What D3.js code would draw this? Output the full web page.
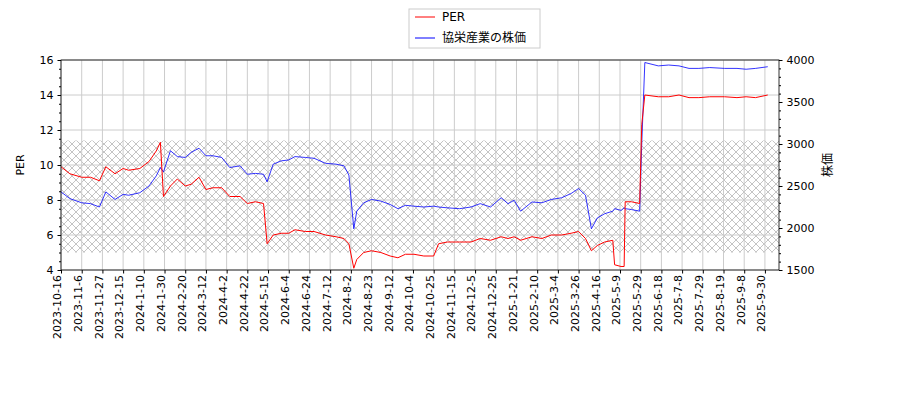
<!DOCTYPE html>
<html><head><meta charset="utf-8">
<script src="https://cdn.jsdelivr.net/npm/d3@7"></script>
<style>body{margin:0;background:#fff;font-family:"DejaVu Sans",sans-serif;}</style>
</head><body><div id="chart"></div>
<script>
// Données
const tickLabels = ["2023-10-16","2023-11-6","2023-11-27","2023-12-15","2024-1-10","2024-1-30","2024-2-20","2024-3-12","2024-4-2","2024-4-22","2024-5-15","2024-6-4","2024-6-24","2024-7-12","2024-8-2","2024-8-23","2024-9-12","2024-10-4","2024-10-25","2024-11-15","2024-12-5","2024-12-25","2025-1-21","2025-2-10","2025-3-4","2025-3-26","2025-4-16","2025-5-9","2025-5-29","2025-6-18","2025-7-8","2025-7-29","2025-8-19","2025-9-8","2025-9-30"];
const dates = ["2023-10-16","2023-10-25","2023-11-06","2023-11-15","2023-11-24","2023-11-30","2023-12-08","2023-12-15","2023-12-22","2024-01-05","2024-01-15","2024-01-22","2024-01-26","2024-01-29","2024-02-05","2024-02-12","2024-02-20","2024-02-26","2024-03-05","2024-03-12","2024-03-19","2024-03-28","2024-04-05","2024-04-15","2024-04-22","2024-05-01","2024-05-10","2024-05-14","2024-05-20","2024-05-28","2024-06-04","2024-06-10","2024-06-20","2024-06-28","2024-07-08","2024-07-18","2024-07-26","2024-07-31","2024-08-05","2024-08-08","2024-08-15","2024-08-23","2024-09-01","2024-09-10","2024-09-18","2024-09-26","2024-10-05","2024-10-15","2024-10-25","2024-10-30","2024-11-08","2024-11-20","2024-12-01","2024-12-10","2024-12-20","2025-01-01","2025-01-10","2025-01-18","2025-01-25","2025-02-05","2025-02-15","2025-02-25","2025-03-08","2025-03-18","2025-03-26","2025-04-02","2025-04-08","2025-04-14","2025-04-22","2025-05-01","2025-05-03","2025-05-10","2025-05-13","2025-05-14","2025-05-20","2025-05-28","2025-05-30","2025-06-02","2025-06-15","2025-06-25","2025-07-05","2025-07-15","2025-07-25","2025-08-05","2025-08-20","2025-09-01","2025-09-10","2025-09-20","2025-10-03"];
const per = [9.9,9.5,9.3,9.3,9.1,9.9,9.5,9.8,9.7,9.8,10.2,10.8,11.3,8.2,8.8,9.2,8.8,8.9,9.3,8.6,8.7,8.7,8.2,8.2,7.8,7.9,7.8,5.5,6.0,6.1,6.1,6.3,6.2,6.2,6.0,5.9,5.8,5.5,4.1,4.6,5.0,5.1,5.0,4.8,4.7,4.9,4.9,4.8,4.8,5.5,5.6,5.6,5.6,5.8,5.7,5.9,5.8,5.9,5.7,5.9,5.8,6.0,6.0,6.1,6.2,5.8,5.1,5.4,5.6,5.7,4.3,4.2,4.2,7.9,7.9,7.8,12.3,14.0,13.9,13.9,14.0,13.85,13.85,13.9,13.9,13.85,13.9,13.85,14.0];
const price = [2430,2350,2300,2290,2250,2430,2340,2400,2390,2420,2500,2620,2720,2667,2920,2850,2840,2900,2950,2860,2860,2840,2720,2740,2640,2650,2640,2550,2760,2800,2810,2850,2840,2830,2770,2760,2740,2630,1990,2200,2300,2340,2320,2280,2230,2270,2260,2250,2260,2250,2240,2230,2250,2290,2250,2360,2290,2330,2200,2310,2300,2340,2360,2410,2470,2390,1990,2120,2170,2200,2230,2210,2240,2230,2220,2200,3000,3970,3930,3940,3930,3900,3900,3910,3900,3900,3890,3900,3920];
const hatchBand = [5, 11.4];

const W = 900, H = 400, m = {l: 61, r: 121, t: 60, b: 130};
const pw = W - m.l - m.r, ph = H - m.t - m.b;
const svg = d3.select("#chart").append("svg").attr("width", W).attr("height", H)
  .style("font-family", "'DejaVu Sans', sans-serif");

// Position en index de tick (axe non calendaire)
const tickTimes = tickLabels.map(s => { const p = s.split("-"); return new Date(+p[0], +p[1]-1, +p[2]).getTime(); });
const toIdx = t => {
  for (let i = 0; i < tickTimes.length - 1; i++) {
    if (t <= tickTimes[i+1]) return i + (t - tickTimes[i]) / (tickTimes[i+1] - tickTimes[i]);
  }
  const n = tickTimes.length - 1;
  return n + (t - tickTimes[n]) / (tickTimes[n] - tickTimes[n-1]);
};
const data = dates.map((d, i) => {
  const p = d.split("-");
  return {idx: toIdx(new Date(+p[0], +p[1]-1, +p[2]).getTime()), per: per[i], price: price[i]};
});

const x = d3.scaleLinear().domain([0, 34.68]).range([m.l, m.l + pw]);
const yL = d3.scaleLinear().domain([4, 16]).range([m.t + ph, m.t]);
const yR = d3.scaleLinear().domain([1500, 4000]).range([m.t + ph, m.t]);

// Hachures
const defs = svg.append("defs");
const pat = defs.append("pattern").attr("id", "hatch").attr("patternUnits", "userSpaceOnUse")
  .attr("width", 8).attr("height", 8);
pat.append("path").attr("d", "M0,0L8,8M8,0L0,8").attr("stroke", "#aaa").attr("stroke-width", 0.7);
svg.append("rect").attr("x", m.l).attr("width", pw)
  .attr("y", yL(hatchBand[1])).attr("height", yL(hatchBand[0]) - yL(hatchBand[1]))
  .attr("fill", "url(#hatch)");

// Grille
const g = svg.append("g").attr("stroke", "#ccc").attr("stroke-width", 1);
tickLabels.forEach((t, i) => g.append("line").attr("x1", x(i)).attr("x2", x(i)).attr("y1", m.t).attr("y2", m.t + ph));
d3.range(4, 17, 2).forEach(v => g.append("line").attr("x1", m.l).attr("x2", m.l + pw).attr("y1", yL(v)).attr("y2", yL(v)));

// Lignes
svg.append("path").datum(data).attr("fill", "none").attr("stroke", "#0000ff").attr("stroke-width", 0.8)
  .attr("d", d3.line().x(d => x(d.idx)).y(d => yR(d.price)));
svg.append("path").datum(data).attr("fill", "none").attr("stroke", "#ff0000").attr("stroke-width", 1)
  .attr("d", d3.line().x(d => x(d.idx)).y(d => yL(d.per)));

// Cadre
svg.append("rect").attr("x", m.l).attr("y", m.t).attr("width", pw).attr("height", ph)
  .attr("fill", "none").attr("stroke", "#000").attr("stroke-width", 0.8);

// Axes
svg.append("g").attr("transform", `translate(${m.l},0)`)
  .call(d3.axisLeft(yL).tickValues(d3.range(4, 17, 2)).tickSize(3.5).tickPadding(4));
svg.append("g").attr("transform", `translate(${m.l},0)`)
  .call(d3.axisLeft(yL).tickValues(d3.range(4, 16.01, 0.5)).tickSize(2).tickFormat(""));
svg.append("g").attr("transform", `translate(${m.l + pw},0)`)
  .call(d3.axisRight(yR).tickValues(d3.range(1500, 4001, 500)).tickFormat(d3.format("d")).tickSize(3.5).tickPadding(4));
svg.append("g").attr("transform", `translate(${m.l + pw},0)`)
  .call(d3.axisRight(yR).tickValues(d3.range(1500, 4001, 100)).tickSize(2).tickFormat(""));
const axB = svg.append("g").attr("transform", `translate(0,${m.t + ph})`)
  .call(d3.axisBottom(x).tickValues(d3.range(tickLabels.length)).tickFormat(i => tickLabels[i]).tickSize(3.5));
axB.selectAll("text").attr("transform", "rotate(-90)").attr("text-anchor", "end")
  .attr("x", -5).attr("y", -4).attr("dy", "0.35em");
svg.selectAll(".domain").remove();
svg.selectAll(".tick text").attr("font-size", 11).attr("fill", "#000")
  .attr("font-family", "'DejaVu Sans', 'Noto Sans CJK JP', sans-serif");

svg.append("text").attr("transform", `translate(24,${m.t + ph/2}) rotate(-90)`).attr("text-anchor", "middle")
  .attr("font-size", 11).text("PER");
svg.append("text").attr("transform", `translate(832,${m.t + ph/2}) rotate(-90)`).attr("text-anchor", "middle")
  .attr("font-size", 12).attr("font-family", "'Noto Sans CJK JP', sans-serif").text("株価");

// Légende
const lg = svg.append("g").attr("transform", "translate(409,9)");
lg.append("rect").attr("width", 131).attr("height", 39).attr("fill", "#fff").attr("stroke", "#ccc");
const items = [{label: "PER", col: "#ff0000"}, {label: "協栄産業の株価", col: "#0000ff"}];
items.forEach((it, i) => {
  lg.append("line").attr("x1", 6).attr("x2", 26).attr("y1", 8 + i * 21).attr("y2", 8 + i * 21).attr("stroke", it.col);
  lg.append("text").attr("x", 33).attr("y", 12 + i * 21).attr("font-size", 12)
    .attr("font-family", "'DejaVu Sans', 'Noto Sans CJK JP', sans-serif").text(it.label);
});
</script></body></html>
